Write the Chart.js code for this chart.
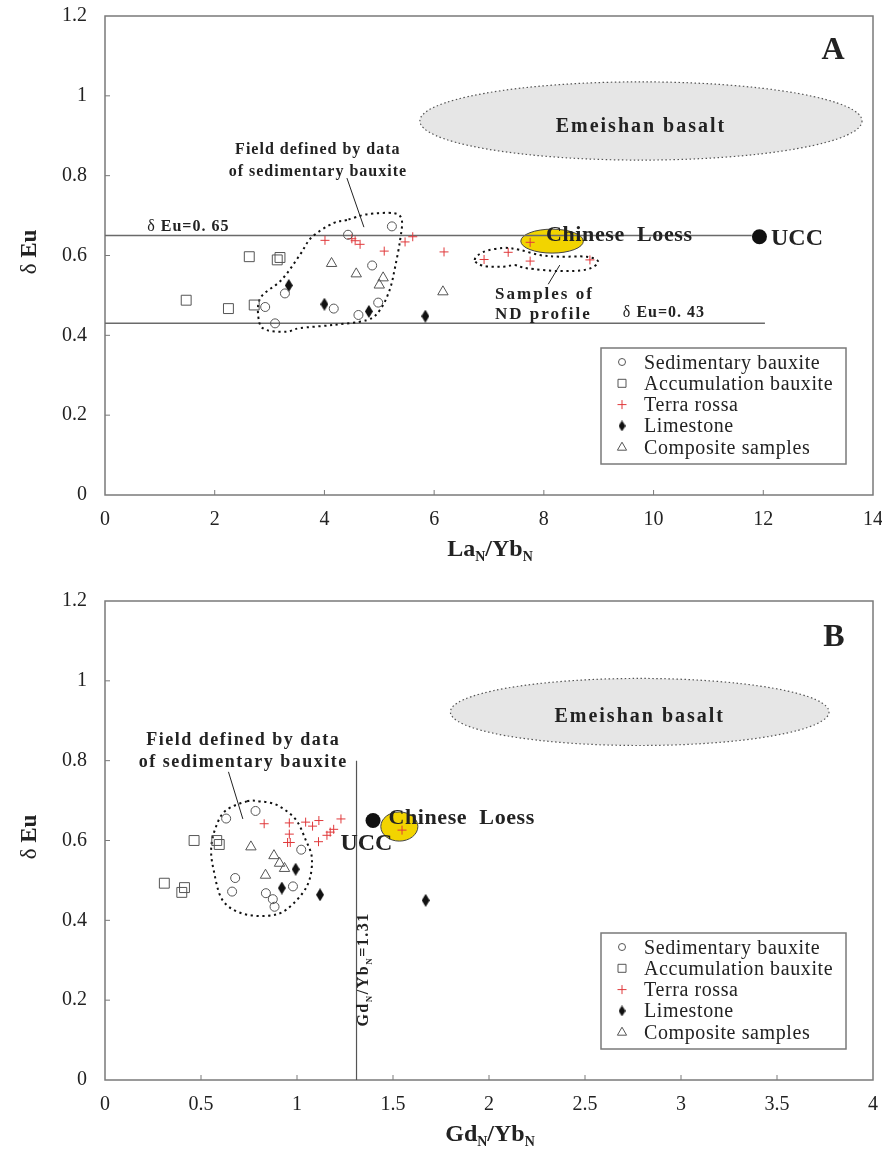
<!DOCTYPE html>
<html>
<head>
<meta charset="utf-8">
<script src="https://cdn.jsdelivr.net/npm/chart.js@4.4.0/dist/chart.umd.min.js"></script>
<style>
  html, body { margin: 0; padding: 0; background: #fff; }
  #wrap { position: relative; width: 882px; height: 1161px; }
  .panel { position: absolute; left: 0; width: 882px; height: 580px; }
</style>
</head>
<body>
<div id="wrap">
  <div class="panel" style="top:0"><canvas id="chartA" width="882" height="580"></canvas></div>
  <div class="panel" style="top:585px"><canvas id="chartB" width="882" height="580"></canvas></div>
</div>
<script>
// ---- axis ticks ----
const X_TICKS_A = [0, 2, 4, 6, 8, 10, 12, 14];
const X_TICKS_B = [0, 0.5, 1, 1.5, 2, 2.5, 3, 3.5, 4];
const Y_TICKS = [0, 0.2, 0.4, 0.6, 0.8, 1, 1.2];

const SERIES_NAMES = ['Sedimentary bauxite', 'Accumulation bauxite', 'Terra rossa', 'Limestone', 'Composite samples'];

// ---- La_N/Yb_N vs δEu ----
const sedimentaryA = [[2.92, 0.471], [3.10, 0.430], [3.28, 0.505], [4.17, 0.467], [4.43, 0.652], [4.62, 0.451], [4.87, 0.575], [4.98, 0.482], [5.23, 0.673]];
const accumulationA = [[1.48, 0.488], [2.25, 0.467], [2.63, 0.597], [2.72, 0.476], [3.14, 0.589], [3.19, 0.595]];
const terraRossaA = [[4.01, 0.638], [4.50, 0.642], [4.56, 0.637], [4.65, 0.628], [5.09, 0.611], [5.47, 0.634], [5.61, 0.647], [6.18, 0.609], [6.91, 0.590], [7.35, 0.608], [7.75, 0.586], [7.75, 0.633], [8.84, 0.589]];
const limestoneA = [[3.35, 0.525], [4.00, 0.478], [4.81, 0.460], [5.84, 0.448]];
const compositeA = [[4.13, 0.580], [4.58, 0.554], [5.00, 0.526], [5.07, 0.544], [6.16, 0.509]];
const uccA = [[11.93, 0.647]];

// ---- Gd_N/Yb_N vs δEu ----
const sedimentaryB = [[0.631, 0.655], [0.784, 0.674], [1.022, 0.577], [0.678, 0.506], [0.662, 0.472], [0.838, 0.468], [0.979, 0.485], [0.874, 0.453], [0.883, 0.434]];
const accumulationB = [[0.464, 0.600], [0.582, 0.600], [0.595, 0.590], [0.309, 0.493], [0.414, 0.482], [0.400, 0.470]];
const terraRossaB = [[0.829, 0.642], [0.960, 0.644], [0.960, 0.616], [0.951, 0.595], [0.965, 0.595], [1.045, 0.646], [1.081, 0.636], [1.114, 0.650], [1.229, 0.654], [1.112, 0.597], [1.156, 0.613], [1.173, 0.621], [1.191, 0.628], [1.547, 0.626]];
const limestoneB = [[0.993, 0.528], [0.921, 0.481], [1.120, 0.464], [1.670, 0.450]];
const compositeB = [[0.760, 0.584], [0.880, 0.562], [0.909, 0.543], [0.935, 0.530], [0.836, 0.513]];
const uccB = [[1.396, 0.650]];

// ---- reference values ----
const EU_UPPER = 0.65;
const EU_LOWER = 0.43;
const GD_YB_LIMIT = 1.31;

// ---- compositional fields (data units) ----
const fieldOutlineA = [[4.41, 0.689], [4.16, 0.681], [3.77, 0.646], [3.55, 0.601], [3.22, 0.539], [2.83, 0.493], [2.81, 0.434], [2.95, 0.413], [3.31, 0.409], [3.55, 0.418], [4.16, 0.426], [4.77, 0.438], [5.01, 0.463], [5.19, 0.514], [5.29, 0.572], [5.38, 0.639], [5.41, 0.689], [5.26, 0.706], [4.77, 0.703]];
const ndProfileOutlineA = [[6.74, 0.589], [6.90, 0.609], [7.26, 0.619], [7.56, 0.614], [7.93, 0.601], [8.29, 0.597], [8.78, 0.597], [8.99, 0.584], [8.78, 0.565], [8.29, 0.561], [7.69, 0.568], [7.47, 0.576], [7.26, 0.572], [6.90, 0.574]];
const fieldOutlineB = [[0.739, 0.698], [0.626, 0.674], [0.574, 0.629], [0.553, 0.579], [0.565, 0.528], [0.609, 0.453], [0.704, 0.419], [0.843, 0.411], [0.948, 0.428], [1.052, 0.486], [1.078, 0.553], [1.043, 0.604], [0.991, 0.654], [0.895, 0.689], [0.808, 0.698]];

const emeishanA = { cx: 9.77, cy: 0.937, rx: 4.03, ry: 0.098 };
const loessA = { cx: 8.15, cy: 0.636, rx: 0.57, ry: 0.030 };
const emeishanB = { cx: 2.785, cy: 0.922, rx: 0.986, ry: 0.084 };
const loessB = { cx: 1.533, cy: 0.635, rx: 0.0965, ry: 0.0365 };

// ---- styling ----
const SERIF = "'Liberation Serif', 'Times New Roman', serif";
const GREY = '#555555';
const RED = '#e0393b';
const AXIS = '#7a7a7a';
const INK = '#222222';

function diamondImage(w, h) {
  const c = document.createElement('canvas');
  c.width = w; c.height = h;
  const g = c.getContext('2d');
  g.fillStyle = '#111';
  g.beginPath();
  g.moveTo(w / 2, 0); g.lineTo(w, h / 2); g.lineTo(w / 2, h); g.lineTo(0, h / 2);
  g.closePath(); g.fill();
  return c;
}
const DIAMOND = diamondImage(8, 13);
const DIAMOND_SMALL = diamondImage(7, 11);

const xy = arr => arr.map(p => ({ x: p[0], y: p[1] }));

function seriesSets(p) {
  const hollow = 'rgba(0,0,0,0)';
  return [
    { label: 'UCC', data: xy(p.ucc), pointStyle: 'circle', pointRadius: 7.5, pointBackgroundColor: '#111', pointBorderColor: '#111', pointBorderWidth: 0 },
    { label: SERIES_NAMES[0], data: xy(p.sedimentary), pointStyle: 'circle', pointRadius: 4.5, pointBackgroundColor: hollow, pointBorderColor: GREY, pointBorderWidth: 1 },
    { label: SERIES_NAMES[1], data: xy(p.accumulation), pointStyle: 'rect', pointRadius: 7, pointBackgroundColor: hollow, pointBorderColor: GREY, pointBorderWidth: 1 },
    { label: SERIES_NAMES[2], data: xy(p.terraRossa), pointStyle: 'cross', pointRadius: 4.5, pointBackgroundColor: RED, pointBorderColor: RED, pointBorderWidth: 1 },
    { label: SERIES_NAMES[3], data: xy(p.limestone), pointStyle: DIAMOND, pointRadius: 6, pointBackgroundColor: '#111', pointBorderColor: '#111' },
    { label: SERIES_NAMES[4], data: xy(p.composite), pointStyle: 'triangle', pointRadius: 6, pointBackgroundColor: hollow, pointBorderColor: GREY, pointBorderWidth: 1 }
  ].map(d => Object.assign(d, { showLine: false, clip: false }));
}

// ---- drawing helpers ----
function drawRuns(ctx, runs, x, y, align, spacing) {
  ctx.save();
  ctx.fillStyle = INK;
  ctx.textBaseline = 'alphabetic';
  ctx.textAlign = 'left';
  ctx.letterSpacing = (spacing || 0) + 'px';
  let total = 0;
  const widths = runs.map(r => { ctx.font = r[1]; const w = ctx.measureText(r[0]).width; total += w; return w; });
  let cx = align === 'center' ? x - total / 2 : (align === 'right' ? x - total : x);
  runs.forEach((r, i) => { ctx.font = r[1]; ctx.fillText(r[0], cx, y + (r[2] || 0)); cx += widths[i]; });
  ctx.restore();
}

function smoothClosed(ctx, pts) {
  const n = pts.length;
  ctx.moveTo(pts[0][0], pts[0][1]);
  for (let i = 0; i < n; i++) {
    const p0 = pts[(i - 1 + n) % n], p1 = pts[i], p2 = pts[(i + 1) % n], p3 = pts[(i + 2) % n];
    ctx.bezierCurveTo(
      p1[0] + (p2[0] - p0[0]) / 6, p1[1] + (p2[1] - p0[1]) / 6,
      p2[0] - (p3[0] - p1[0]) / 6, p2[1] - (p3[1] - p1[1]) / 6,
      p2[0], p2[1]);
  }
  ctx.closePath();
}

function legendMarker(ctx, kind, x, y) {
  ctx.save();
  ctx.lineWidth = 1;
  ctx.strokeStyle = GREY;
  ctx.beginPath();
  if (kind === 0) { ctx.arc(x, y, 3.5, 0, Math.PI * 2); ctx.stroke(); }
  else if (kind === 1) { ctx.rect(x - 4, y - 4, 8, 8); ctx.stroke(); }
  else if (kind === 2) { ctx.strokeStyle = RED; ctx.moveTo(x - 4.5, y); ctx.lineTo(x + 4.5, y); ctx.moveTo(x, y - 4.5); ctx.lineTo(x, y + 4.5); ctx.stroke(); }
  else if (kind === 3) { ctx.drawImage(DIAMOND_SMALL, x - 3.5, y - 5.5); }
  else { ctx.moveTo(x, y - 5); ctx.lineTo(x + 4.6, y + 3); ctx.lineTo(x - 4.6, y + 3); ctx.closePath(); ctx.stroke(); }
  ctx.restore();
}

const decorPlugin = {
  id: 'decor',
  beforeDatasetsDraw(chart) {
    const p = chart.config.options.panel;
    const { ctx, chartArea: a } = chart;
    const sx = chart.scales.x, sy = chart.scales.y;
    const X = v => sx.getPixelForValue(v), Y = v => sy.getPixelForValue(v);
    ctx.save();

    // frame and inward ticks
    ctx.strokeStyle = AXIS; ctx.lineWidth = 1.5;
    ctx.strokeRect(a.left, a.top, a.right - a.left, a.bottom - a.top);
    ctx.lineWidth = 1;
    ctx.beginPath();
    p.xTicks.slice(1, -1).forEach(v => { ctx.moveTo(X(v), a.bottom); ctx.lineTo(X(v), a.bottom - 5); });
    Y_TICKS.slice(1, -1).forEach(v => { ctx.moveTo(a.left, Y(v)); ctx.lineTo(a.left + 5, Y(v)); });
    ctx.stroke();

    // Emeishan basalt field
    const e = p.emeishan;
    ctx.beginPath();
    ctx.ellipse(X(e.cx), Y(e.cy), X(e.cx + e.rx) - X(e.cx), Y(e.cy) - Y(e.cy + e.ry), 0, 0, Math.PI * 2);
    ctx.fillStyle = '#e6e6e6'; ctx.fill();
    ctx.setLineDash([1.5, 2.5]); ctx.strokeStyle = '#555'; ctx.lineWidth = 1.2; ctx.stroke();
    ctx.setLineDash([]);

    // Chinese loess field
    const l = p.loess;
    ctx.beginPath();
    ctx.ellipse(X(l.cx), Y(l.cy), X(l.cx + l.rx) - X(l.cx), Y(l.cy) - Y(l.cy + l.ry), 0, 0, Math.PI * 2);
    ctx.fillStyle = '#f2d400'; ctx.fill();
    ctx.strokeStyle = '#444'; ctx.lineWidth = 1; ctx.stroke();

    // reference lines
    ctx.strokeStyle = '#6a6a6a'; ctx.lineWidth = 1.5;
    p.hLines.forEach(h => { ctx.beginPath(); ctx.moveTo(X(h.x0), Y(h.y)); ctx.lineTo(X(h.x1), Y(h.y)); ctx.stroke(); });
    ctx.lineWidth = 1.2; ctx.strokeStyle = '#555';
    p.vLines.forEach(h => { ctx.beginPath(); ctx.moveTo(X(h.x), Y(h.y0)); ctx.lineTo(X(h.x), Y(h.y1)); ctx.stroke(); });

    // dotted field outlines
    ctx.strokeStyle = '#111'; ctx.lineWidth = 2; ctx.setLineDash([2.2, 3.6]);
    p.outlines.forEach(o => { ctx.beginPath(); smoothClosed(ctx, o.map(q => [X(q[0]), Y(q[1])])); ctx.stroke(); });
    ctx.setLineDash([]);

    // leader lines
    ctx.strokeStyle = '#222'; ctx.lineWidth = 1;
    p.leaders.forEach(s => { ctx.beginPath(); ctx.moveTo(X(s[0]), Y(s[1])); ctx.lineTo(X(s[2]), Y(s[3])); ctx.stroke(); });
    ctx.restore();
  },
  afterDatasetsDraw(chart) {
    const p = chart.config.options.panel;
    const { ctx, chartArea: a } = chart;
    const sx = chart.scales.x, sy = chart.scales.y;
    const X = v => sx.getPixelForValue(v), Y = v => sy.getPixelForValue(v);

    // annotations
    p.texts.forEach(t => {
      if (t.rotate) {
        ctx.save();
        ctx.translate(X(t.x), Y(t.y));
        ctx.rotate(-Math.PI / 2);
        drawRuns(ctx, t.runs, 0, 0, t.align, t.spacing);
        ctx.restore();
      } else {
        drawRuns(ctx, t.runs, X(t.x), Y(t.y), t.align, t.spacing);
      }
    });

    // legend box
    const lw = 245, lh = 116;
    const lx = a.right - 27 - lw, ly = a.bottom - 31 - lh;
    ctx.save();
    ctx.strokeStyle = AXIS; ctx.lineWidth = 1.5;
    ctx.strokeRect(lx, ly, lw, lh);
    ctx.restore();
    SERIES_NAMES.forEach((name, i) => {
      const cy = ly + 14 + i * 21.3;
      legendMarker(ctx, i, lx + 21, cy);
      drawRuns(ctx, [[name, '20px ' + SERIF]], lx + 43, cy + 6.5, 'left', 0.6);
    });

    // axis titles
    const B24 = 'bold 24px ' + SERIF, S14 = 'bold 14px ' + SERIF;
    drawRuns(ctx, p.xTitle.map((s, i) => [s, i % 2 ? S14 : B24, i % 2 ? 5 : 0]), (a.left + a.right) / 2 + 1, 556, 'center', 0);
    ctx.save();
    ctx.translate(36, 252);
    ctx.rotate(-Math.PI / 2);
    drawRuns(ctx, [['δ', '23px ' + SERIF], [' Eu', 'bold 23px ' + SERIF]], 0, 0, 'center', 0);
    ctx.restore();
  }
};

// keep the plot box fixed: no extra room reserved for overhanging tick labels
function fixScale(s, size, horizontal) {
  if (horizontal) s.height = size; else s.width = size;
  s.paddingLeft = 0; s.paddingRight = 0; s.paddingTop = 0; s.paddingBottom = 0;
}

function makeChart(id, p) {
  return new Chart(document.getElementById(id), {
    type: 'scatter',
    data: { datasets: seriesSets(p.series) },
    plugins: [decorPlugin],
    options: {
      panel: p,
      responsive: false,
      animation: false,
      events: [],
      layout: { padding: { top: 16, right: 9, left: 0, bottom: 0 } },
      plugins: { legend: { display: false }, tooltip: { enabled: false } },
      scales: {
        x: {
          type: 'linear', min: 0, max: p.xTicks[p.xTicks.length - 1],
          afterBuildTicks: s => { s.ticks = p.xTicks.map(v => ({ value: v })); },
          afterFit: s => fixScale(s, 85, true),
          grid: { display: false, drawTicks: false },
          border: { display: false },
          ticks: { font: { family: SERIF, size: 20 }, color: INK, padding: 13, maxRotation: 0, autoSkip: false, callback: v => String(v) }
        },
        y: {
          type: 'linear', min: 0, max: 1.2,
          afterBuildTicks: s => { s.ticks = Y_TICKS.map(v => ({ value: v })); },
          afterFit: s => fixScale(s, 105, false),
          grid: { display: false, drawTicks: false },
          border: { display: false },
          ticks: { font: { family: SERIF, size: 20 }, color: INK, padding: 18, autoSkip: false, callback: v => String(v) }
        }
      }
    }
  });
}

const BOLD = s => 'bold ' + s + 'px ' + SERIF;
const REG = s => s + 'px ' + SERIF;

makeChart('chartA', {
  xTicks: X_TICKS_A,
  xTitle: ['La', 'N', '/Yb', 'N'],
  series: { sedimentary: sedimentaryA, accumulation: accumulationA, terraRossa: terraRossaA, limestone: limestoneA, composite: compositeA, ucc: uccA },
  emeishan: emeishanA,
  loess: loessA,
  hLines: [{ y: EU_UPPER, x0: 0, x1: 11.79 }, { y: EU_LOWER, x0: 0, x1: 12.03 }],
  vLines: [],
  outlines: [fieldOutlineA, ndProfileOutlineA],
  leaders: [[4.41, 0.794, 4.72, 0.671], [8.29, 0.576, 8.08, 0.528]],
  texts: [
    { x: 3.88, y: 0.855, align: 'center', spacing: 1, runs: [['Field defined by data', BOLD(16)]] },
    { x: 3.88, y: 0.798, align: 'center', spacing: 1, runs: [['of sedimentary bauxite', BOLD(16)]] },
    { x: 0.77, y: 0.661, align: 'left', spacing: 1, runs: [['δ', REG(16)], [' Eu=0. 65', BOLD(16)]] },
    { x: 9.44, y: 0.446, align: 'left', spacing: 1, runs: [['δ', REG(16)], [' Eu=0. 43', BOLD(16)]] },
    { x: 7.11, y: 0.491, align: 'left', spacing: 2, runs: [['Samples of', BOLD(17)]] },
    { x: 7.11, y: 0.441, align: 'left', spacing: 2, runs: [['ND profile', BOLD(17)]] },
    { x: 8.04, y: 0.637, align: 'left', spacing: 0.6, runs: [['Chinese  Loess', BOLD(22)]] },
    { x: 12.14, y: 0.626, align: 'left', spacing: 0, runs: [['UCC', BOLD(24)]] },
    { x: 9.77, y: 0.909, align: 'center', spacing: 2, runs: [['Emeishan basalt', BOLD(20)]] },
    { x: 13.27, y: 1.092, align: 'center', spacing: 0, runs: [['A', BOLD(32)]] }
  ]
});

makeChart('chartB', {
  xTicks: X_TICKS_B,
  xTitle: ['Gd', 'N', '/Yb', 'N'],
  series: { sedimentary: sedimentaryB, accumulation: accumulationB, terraRossa: terraRossaB, limestone: limestoneB, composite: compositeB, ucc: uccB },
  emeishan: emeishanB,
  loess: loessB,
  hLines: [],
  vLines: [{ x: GD_YB_LIMIT, y0: 0, y1: 0.8 }],
  outlines: [fieldOutlineB],
  leaders: [[0.643, 0.772, 0.718, 0.654]],
  texts: [
    { x: 0.72, y: 0.8395, align: 'center', spacing: 1.5, runs: [['Field defined by data', BOLD(18)]] },
    { x: 0.72, y: 0.784, align: 'center', spacing: 1.5, runs: [['of sedimentary bauxite', BOLD(18)]] },
    { x: 1.476, y: 0.6415, align: 'left', spacing: 0.6, runs: [['Chinese  Loess', BOLD(22)]] },
    { x: 1.226, y: 0.577, align: 'left', spacing: 0, runs: [['UCC', BOLD(24)]] },
    { x: 2.785, y: 0.898, align: 'center', spacing: 2, runs: [['Emeishan basalt', BOLD(20)]] },
    { x: 3.797, y: 1.087, align: 'center', spacing: 0, runs: [['B', BOLD(32)]] },
    { x: 1.372, y: 0.277, align: 'center', spacing: 1.5, rotate: true,
      runs: [['Gd', BOLD(16)], ['N', BOLD(9), 4], ['/Yb', BOLD(16)], ['N', BOLD(9), 4], ['=1.31', BOLD(16)]] }
  ]
});
</script>
</body>
</html>
